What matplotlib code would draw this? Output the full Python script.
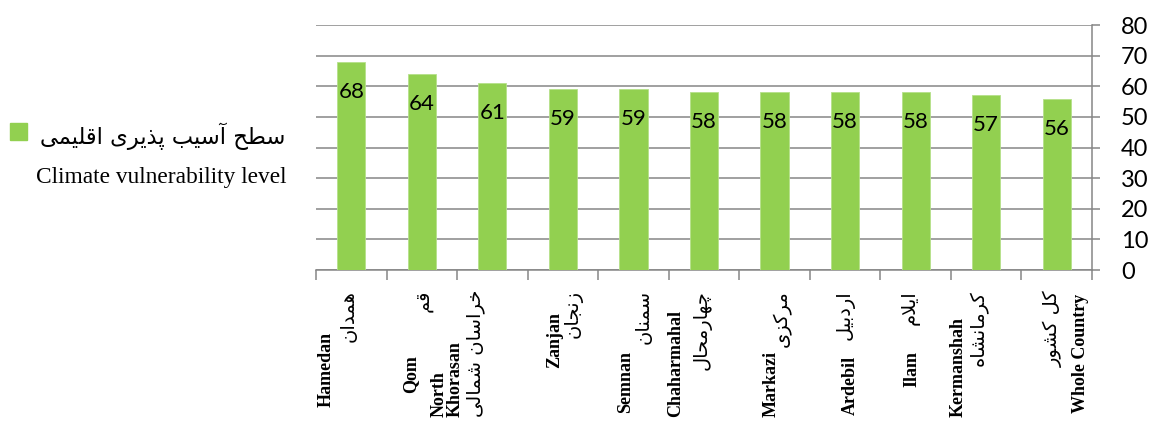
import matplotlib.pyplot as plt
from matplotlib.patches import Rectangle

# داده‌ها
provinces_en = ['Hamedan', 'Qom', 'North\nKhorasan', 'Zanjan', 'Semnan', 'Chaharmahal',
                'Markazi', 'Ardebil', 'Ilam', 'Kermanshah', 'Whole Country']
provinces_fa = ['همدان', 'قم', 'خراسان شمالی', 'زنجان', 'سمنان', 'چهارمحال',
                'مرکزی', 'اردبیل', 'ایلام', 'کرمانشاه', 'کل کشور']
vulnerability = [68, 64, 61, 59, 59, 58, 58, 58, 58, 57, 56]
y_ticks = [0, 10, 20, 30, 40, 50, 60, 70, 80]
legend_fa = 'سطح آسیب پذیری اقلیمی'
legend_en = 'Climate vulnerability level'

# placement of the rotated category labels (pixels, relative to category centre / axis line)
en_dx = [-25, -11, -45, -8, -8, -28, -3, 5, -4, -28, 24]
en_start = [137, 123, 147, 98, 143, 147, 147, 145, 117, 147, 143]
fa_dx = [-3, 1, -17, 10, 10, -2, 8, 0, -6, -7, -4]

# matplotlib has no arabic shaping, so pick presentation forms by hand
FORMS = {
    'ا': (0xFE8D, 0xFE8E), 'آ': (0xFE81, 0xFE82),
    'ب': (0xFE8F, 0xFE90, 0xFE91, 0xFE92), 'پ': (0xFB56, 0xFB57, 0xFB58, 0xFB59),
    'ج': (0xFE9D, 0xFE9E, 0xFE9F, 0xFEA0), 'چ': (0xFB7A, 0xFB7B, 0xFB7C, 0xFB7D),
    'ح': (0xFEA1, 0xFEA2, 0xFEA3, 0xFEA4), 'خ': (0xFEA5, 0xFEA6, 0xFEA7, 0xFEA8),
    'د': (0xFEA9, 0xFEAA), 'ذ': (0xFEAB, 0xFEAC), 'ر': (0xFEAD, 0xFEAE), 'ز': (0xFEAF, 0xFEB0),
    'س': (0xFEB1, 0xFEB2, 0xFEB3, 0xFEB4), 'ش': (0xFEB5, 0xFEB6, 0xFEB7, 0xFEB8),
    'ط': (0xFEC1, 0xFEC2, 0xFEC3, 0xFEC4), 'ق': (0xFED5, 0xFED6, 0xFED7, 0xFED8),
    'ک': (0xFB8E, 0xFB8F, 0xFB90, 0xFB91), 'ل': (0xFEDD, 0xFEDE, 0xFEDF, 0xFEE0),
    'م': (0xFEE1, 0xFEE2, 0xFEE3, 0xFEE4), 'ن': (0xFEE5, 0xFEE6, 0xFEE7, 0xFEE8),
    'ه': (0xFEE9, 0xFEEA, 0xFEEB, 0xFEEC), 'و': (0xFEED, 0xFEEE),
    'ی': (0xFBFC, 0xFBFD, 0xFBFE, 0xFBFF), 'لا': (0xFEFB, 0xFEFC),
}


def shape(text):
    tokens = []
    i = 0
    while i < len(text):
        if text[i] == 'ل' and i + 1 < len(text) and text[i + 1] == 'ا':
            tokens.append('لا')
            i += 2
        else:
            tokens.append(text[i])
            i += 1
    out = []
    for k, t in enumerate(tokens):
        if t not in FORMS:
            out.append(t)
            continue
        prev = tokens[k - 1] if k > 0 else None
        nxt = tokens[k + 1] if k + 1 < len(tokens) else None
        join_prev = prev in FORMS and len(FORMS[prev]) == 4
        join_next = len(FORMS[t]) == 4 and nxt in FORMS
        if join_prev and join_next:
            idx = 3
        elif join_prev:
            idx = 1
        elif join_next:
            idx = 2
        else:
            idx = 0
        out.append(chr(FORMS[t][idx]))
    return ''.join(out)[::-1]


W, H = 1155, 423
fig = plt.figure(figsize=(W / 100, H / 100), dpi=100)
ax = fig.add_axes([316 / W, 1 - 270 / H, (1092 - 316) / W, (270 - 25) / H])

grid_c = '#868686'
x = list(range(len(vulnerability)))
bars = ax.bar(x, vulnerability, width=0.4, color='#92D050', edgecolor='#b5e08a',
              linewidth=0.6, zorder=3)

for xi, v in zip(x, vulnerability):
    ax.annotate(f'{v}', xy=(xi, v), xytext=(0, -30), textcoords='offset pixels',
                ha='center', va='center', fontsize=16, family='Lato', zorder=4)

ax.set_xlim(-0.5, len(x) - 0.5)
ax.set_ylim(0, 80)
ax.set_yticks(y_ticks)
ax.yaxis.tick_right()
ax.tick_params(axis='y', direction='out', length=6, width=1.1, color=grid_c, pad=15,
               labelsize=17)
for lab in ax.get_yticklabels():
    lab.set_family('Lato')
ax.grid(axis='y', color=grid_c, linewidth=1.1, zorder=0)

ax.set_xticks([i - 0.5 for i in range(len(x) + 1)])
ax.set_xticklabels([])
ax.tick_params(axis='x', direction='out', length=7, width=1.1, color=grid_c)

for side in ['top', 'left']:
    ax.spines[side].set_visible(False)
for side in ['bottom', 'right']:
    ax.spines[side].set_color(grid_c)
    ax.spines[side].set_linewidth(1.1)

# category labels
for i in x:
    ax.annotate(provinces_en[i], xy=(i, 0), xytext=(en_dx[i], -en_start[i]),
                textcoords='offset pixels', rotation=90, rotation_mode='anchor',
                ha='left', va='center', fontsize=13, fontweight='bold',
                family='Liberation Serif', annotation_clip=False, linespacing=0.95)
    ax.annotate(shape(provinces_fa[i]), xy=(i, 0), xytext=(fa_dx[i], -20),
                textcoords='offset pixels', rotation=90, rotation_mode='anchor',
                ha='right', va='center', fontsize=14, family='DejaVu Sans',
                annotation_clip=False)

# legend
fig.patches.append(Rectangle((10 / W, 1 - 140 / H), 17 / W, 17 / H,
                             transform=fig.transFigure, color='#92D050'))
fig.text(285 / W, 1 - 136 / H, shape(legend_fa), ha='right', va='center',
         fontsize=16.3, family='DejaVu Sans')
fig.text(287 / W, 1 - 177 / H, legend_en, ha='right', va='center',
         fontsize=16.8, family='Liberation Serif')

fig.savefig('out.png', dpi=100)
